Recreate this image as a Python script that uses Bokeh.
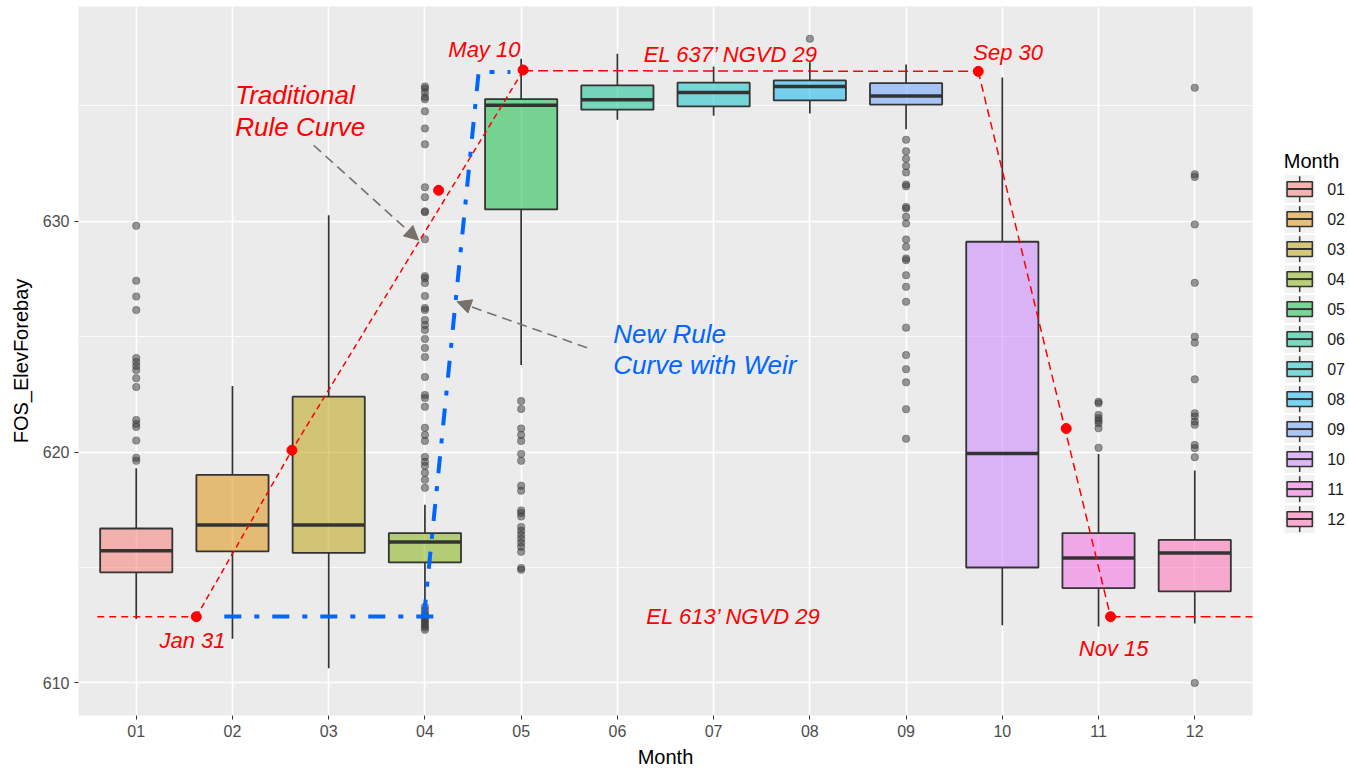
from bokeh.plotting import figure
from bokeh.models import ColumnDataSource, Range1d, FixedTicker, Arrow, NormalHead
from bokeh.layouts import row
from bokeh.embed import file_html
from bokeh.resources import INLINE
from bokeh.core.properties import value

FONT = "Liberation Sans"

# ---------------- data ----------------
months = ["01", "02", "03", "04", "05", "06", "07", "08", "09", "10", "11", "12"]
month_pos = [1, 2, 3, 4, 5, 6, 7, 8, 9, 10, 11, 12]
box_colors = ["#F8766D", "#DE8C00", "#B79F00", "#7CAE00", "#00BA38", "#00C08B",
              "#00BFC4", "#00B4F0", "#619CFF", "#C77CFF", "#F564E3", "#FF64B0"]

whisk_lo = [612.77, 611.91, 610.64, 613.45, 623.77, 634.40, 634.57, 634.66, 633.98, 612.50, 612.44, 612.58]
q1 =       [614.79, 615.70, 615.63, 615.22, 630.51, 634.83, 634.97, 635.23, 635.05, 615.00, 614.11, 613.97]
med =      [615.73, 616.84, 616.84, 616.10, 635.02, 635.26, 635.57, 635.83, 635.42, 619.94, 615.41, 615.63]
q3 =       [616.69, 619.01, 622.40, 616.49, 635.29, 635.88, 636.00, 636.10, 635.98, 629.11, 616.49, 616.20]
whisk_hi = [619.30, 622.86, 630.26, 617.72, 637.04, 637.25, 636.70, 636.89, 636.79, 636.22, 619.92, 619.20]

out_01 = [629.80, 627.42, 626.74, 626.15, 624.07, 623.90, 623.73, 623.55, 623.20, 622.82,
          621.39, 621.22, 621.09, 620.50, 619.75, 619.62]
out_02 = []
out_03 = []
out_04 = [635.84, 635.75, 635.58, 635.38, 635.28, 634.76, 634.02, 633.33, 631.47, 631.04,
          630.43, 630.39, 629.22, 627.62, 627.53, 627.32, 626.76, 626.24, 626.15, 625.72,
          625.50, 625.29, 624.90, 624.51, 624.12, 623.25, 622.47, 622.34, 621.96, 621.05,
          620.74, 620.48, 619.79, 619.58, 619.40, 619.10, 618.80, 618.45,
          613.30, 613.15, 613.00, 612.90, 612.80, 612.70, 612.60, 612.50, 612.40, 612.30]
out_05 = [622.21, 621.87, 621.02, 620.74, 620.48, 619.92, 619.62, 618.54, 618.33, 617.47,
          617.36, 617.21, 616.76, 616.59, 616.42, 616.25, 616.07, 615.90, 615.68, 614.98, 614.90]
out_06 = []
out_07 = []
out_08 = [637.90]
out_09 = [633.53, 633.03, 632.71, 632.39, 632.11, 631.59, 631.51, 630.62, 630.55, 630.19,
          629.90, 629.21, 628.89, 628.39, 628.31, 627.66, 627.16, 626.51, 625.39, 624.20,
          623.59, 623.02, 621.86, 620.58]
out_10 = []
out_11 = [622.18, 622.11, 621.61, 621.47, 621.36, 621.25, 621.03, 620.19]
out_12 = [635.78, 632.03, 631.92, 629.86, 627.33, 625.00, 624.74, 623.15, 621.68, 621.54,
          621.32, 621.18, 620.31, 620.17, 619.78, 610.00]
outliers = [out_01, out_02, out_03, out_04, out_05, out_06, out_07, out_08, out_09, out_10, out_11, out_12]

# traditional rule curve (red) vertices
rule_x = [0.595, 1.624, 2.618, 5.02, 9.75, 11.125, 12.74]
rule_y = [612.87, 612.87, 620.08, 636.52, 636.49, 612.87, 612.87]
dots_x = [1.624, 2.618, 4.142, 5.02, 9.75, 10.664, 11.125]
dots_y = [612.87, 620.08, 631.34, 636.55, 636.49, 621.02, 612.87]

# new rule curve with weir (blue)
weir_x1 = [1.915, 4.11]
weir_y1 = [612.88, 612.88]
weir_x2 = [3.99, 4.558, 4.888]
weir_y2 = [612.88, 636.46, 636.46]

# annotations
big_text = ["Traditional", "Rule Curve"]
big_x = [2.029, 2.029]
big_y = [635.45, 634.07]
blue_text = ["New Rule", "Curve with Weir"]
blue_x = [5.958, 5.958]
blue_y = [625.10, 623.79]
small_text = ["May 10", "EL 637\u2019 NGVD 29", "Sep 30", "Jan 31", "EL 613\u2019 NGVD 29", "Nov 15"]
small_x = [4.243, 6.273, 9.698, 1.242, 6.301, 10.795]
small_y = [637.42, 637.23, 637.31, 611.83, 612.88, 611.51]
arrow_start_x = [2.843, 5.685]
arrow_start_y = [633.29, 624.52]
arrow_end_x = [3.934, 4.334]
arrow_end_y = [629.18, 626.51]

RED = "#FF0000"
BLUE = "#0066FF"
ARROW = "#78716B"
DARK = "#333333"
BOX_W = 0.75

# ---------------- main plot ----------------
p = figure(width=1258, height=770, x_range=Range1d(0.4, 12.6), y_range=Range1d(608.59, 639.30),
           output_backend="svg", toolbar_location=None,
           min_border_left=78, min_border_right=6, min_border_top=6, min_border_bottom=54)
p.background_fill_color = "#EBEBEB"
p.border_fill_color = "white"
p.outline_line_color = None

p.xaxis.ticker = FixedTicker(ticks=month_pos)
p.xaxis.major_label_overrides = {m: s for m, s in zip(month_pos, months)}
p.yaxis.ticker = FixedTicker(ticks=[610, 620, 630], minor_ticks=[615, 625, 635])
for ax in (p.xaxis, p.yaxis):
    ax.axis_line_color = None
    ax.major_tick_line_color = DARK
    ax.major_tick_out = 4
    ax.major_tick_in = 0
    ax.minor_tick_line_color = None
    ax.major_label_text_font = FONT
    ax.major_label_text_font_size = "16px"
    ax.major_label_text_color = "#4D4D4D"
    ax.major_label_standoff = 5
    ax.axis_label_text_font = FONT
    ax.axis_label_text_font_size = "20px"
    ax.axis_label_text_font_style = "normal"
    ax.axis_label_text_color = "black"
p.xaxis.axis_label = "Month"
p.yaxis.axis_label = "FOS_ElevForebay"
p.xaxis.axis_label_standoff = 6
p.yaxis.axis_label_standoff = 8

p.xgrid.grid_line_color = "white"
p.xgrid.grid_line_width = 1.6
p.ygrid.grid_line_color = "white"
p.ygrid.grid_line_width = 1.6
p.ygrid.minor_grid_line_color = "white"
p.ygrid.minor_grid_line_width = 0.8

box_src = ColumnDataSource(dict(
    x=month_pos, q1=q1, med=med, q3=q3, lo=whisk_lo, hi=whisk_hi, color=box_colors,
    xl=[m - BOX_W / 2 for m in month_pos], xr=[m + BOX_W / 2 for m in month_pos]))

p.segment(x0="x", y0="q3", x1="x", y1="hi", source=box_src, line_color=DARK, line_width=1.7)
p.segment(x0="x", y0="lo", x1="x", y1="q1", source=box_src, line_color=DARK, line_width=1.7)
p.vbar(x="x", width=BOX_W, bottom="q1", top="q3", source=box_src,
       fill_color="color", fill_alpha=0.5, line_color=DARK, line_width=1.8)
p.segment(x0="xl", y0="med", x1="xr", y1="med", source=box_src, line_color=DARK, line_width=3.5)

ox, oy = [], []
for m, vals in zip(month_pos, outliers):
    ox += [m] * len(vals)
    oy += vals
p.scatter(ox, oy, size=7.5, fill_color=DARK, fill_alpha=0.5, line_color=DARK, line_alpha=0.35)

# red traditional rule curve
p.line(rule_x[0:2], rule_y[0:2], line_color=RED, line_width=1.5, line_dash="7 5")
p.line(rule_x[1:4], rule_y[1:4], line_color=RED, line_width=1.5, line_dash="6 4")
p.line(rule_x[3:5], rule_y[3:5], line_color=RED, line_width=1.5, line_dash="10 5")
p.line(rule_x[4:6], rule_y[4:6], line_color=RED, line_width=1.5, line_dash="8 5")
p.line(rule_x[5:7], rule_y[5:7], line_color=RED, line_width=1.5, line_dash="10 5")
p.scatter(dots_x, dots_y, size=10, fill_color=RED, line_color=RED)

# blue new rule curve
p.line(weir_x1, weir_y1, line_color=BLUE, line_width=4, line_dash="17 13 5 13")
p.line(weir_x2, weir_y2, line_color=BLUE, line_width=4, line_dash="17 13 5 13")

# arrows
for xs, ys, xe, ye in zip(arrow_start_x, arrow_start_y, arrow_end_x, arrow_end_y):
    p.add_layout(Arrow(end=NormalHead(size=14, fill_color=ARROW, line_color=ARROW),
                       x_start=xs, y_start=ys, x_end=xe, y_end=ye,
                       line_color=ARROW, line_width=1.6, line_dash="10 6"))

p.text(x=big_x, y=big_y, text=big_text, text_font=value(FONT), text_font_style="italic",
       text_font_size="26px", text_color=RED, text_align="left", text_baseline="alphabetic")
p.text(x=blue_x, y=blue_y, text=blue_text, text_font=value(FONT), text_font_style="italic",
       text_font_size="26px", text_color=BLUE, text_align="left", text_baseline="alphabetic")
p.text(x=small_x, y=small_y, text=small_text, text_font=value(FONT), text_font_style="italic",
       text_font_size="22px", text_color=RED, text_align="left", text_baseline="alphabetic")

# ---------------- legend panel ----------------
leg = figure(width=91, height=770, x_range=Range1d(1258, 1349), y_range=Range1d(770, 0),
             output_backend="svg", toolbar_location=None, min_border=0,
             x_axis_type=None, y_axis_type=None)
leg.outline_line_color = None
leg.background_fill_color = "white"
leg.border_fill_color = "white"

key_cx = 1299.2
key_cy = [198.3 + 32.58 * i for i in range(12)]
leg_src = ColumnDataSource(dict(
    x=[key_cx] * 12, y=key_cy, color=box_colors, label=months,
    xl=[key_cx - 12.6] * 12, xr=[key_cx + 12.6] * 12,
    wt0=[c - 14 for c in key_cy], wt1=[c - 8 for c in key_cy],
    wb0=[c + 8 for c in key_cy], wb1=[c + 14 for c in key_cy],
    lx=[1326.7] * 12))
leg.rect(x="x", y="y", width=30, height=30, source=leg_src, fill_color="#F2F2F2", line_color=None)
leg.segment(x0="x", y0="wt0", x1="x", y1="wt1", source=leg_src, line_color=DARK, line_width=1.5)
leg.segment(x0="x", y0="wb0", x1="x", y1="wb1", source=leg_src, line_color=DARK, line_width=1.5)
leg.rect(x="x", y="y", width=25.3, height=16, source=leg_src, fill_color="color", fill_alpha=0.5,
         line_color=DARK, line_width=1.6)
leg.segment(x0="xl", y0="y", x1="xr", y1="y", source=leg_src, line_color=DARK, line_width=2)
leg.text(x="lx", y="y", text="label", source=leg_src, text_font=value(FONT), text_font_size="16px",
         text_color="#1A1A1A", text_align="left", text_baseline="middle")
leg.text(x=[1283.3], y=[168.3], text=["Month"], text_font=value(FONT), text_font_size="20px",
         text_color="black", text_align="left", text_baseline="alphabetic")

layout = row(p, leg)
open("out.html", "w").write(file_html(layout, INLINE))
